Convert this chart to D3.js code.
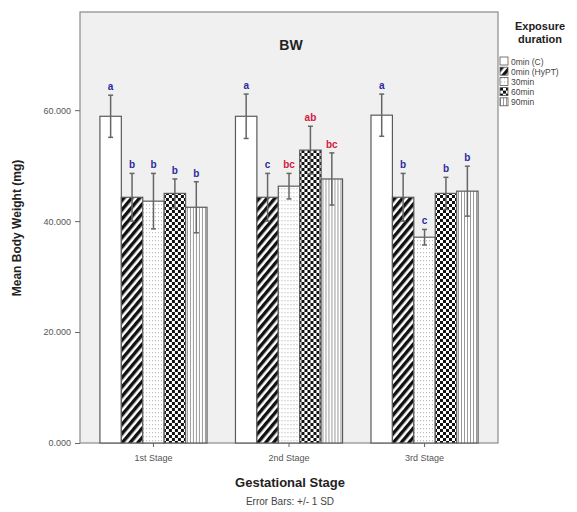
<!DOCTYPE html>
<html>
<head>
<meta charset="utf-8">
<script src="https://cdn.jsdelivr.net/npm/d3@7"></script>
<style>
  body { margin: 0; background: #fff; }
  svg { font-family: Arial, "Liberation Sans", sans-serif; }
</style>
</head>
<body>
<svg id="chart" width="577" height="512"></svg>
<script>
// data
const stages = ["1st Stage", "2nd Stage", "3rd Stage"];
const durations = ["0min (C)", "0min (HyPT)", "30min", "60min", "90min"];
const means = [
  [58.9, 44.3, 43.6, 45.0, 42.5],
  [58.9, 44.3, 46.3, 52.8, 47.6],
  [59.1, 44.3, 37.1, 45.0, 45.4]
];
const sds = [
  [3.8, 4.3, 5.0, 2.6, 4.6],
  [4.0, 4.3, 2.3, 4.3, 4.7],
  [3.8, 4.3, 1.4, 2.9, 4.5]
];
const letters = [
  ["a", "b", "b", "b", "b"],
  ["a", "c", "bc", "ab", "bc"],
  ["a", "b", "c", "b", "b"]
];
const yTicks = [0, 20, 40, 60];

const svg = d3.select("#chart");
const frame = { left: 80, right: 498, top: 12, bottom: 443 };

// fill patterns, one per duration
const defs = svg.append("defs");
function pattern(id, w, h) {
  return defs.append("pattern").attr("id", id)
    .attr("patternUnits", "userSpaceOnUse").attr("width", w).attr("height", h);
}
let p = pattern("p-hypt", 6, 6).attr("patternTransform", "rotate(40)");
p.append("rect").attr("width", 6).attr("height", 6).attr("fill", "#fff");
p.append("rect").attr("width", 3.4).attr("height", 6).attr("fill", "#111");

p = pattern("p-30", 3, 4);
p.append("rect").attr("width", 3).attr("height", 4).attr("fill", "#fff");
p.append("rect").attr("x", 1).attr("width", 1).attr("height", 1.3).attr("fill", "#bbb");

p = pattern("p-60", 6, 6);
p.append("rect").attr("width", 6).attr("height", 6).attr("fill", "#fff");
p.append("rect").attr("width", 3).attr("height", 3).attr("fill", "#111");
p.append("rect").attr("x", 3).attr("y", 3).attr("width", 3).attr("height", 3).attr("fill", "#111");

p = pattern("p-90", 3, 3);
p.append("rect").attr("width", 3).attr("height", 3).attr("fill", "#fff");
p.append("rect").attr("width", 1).attr("height", 3).attr("fill", "#999");

const fills = ["#fff", "url(#p-hypt)", "url(#p-30)", "url(#p-60)", "url(#p-90)"];

// plot background
svg.append("rect")
  .attr("x", frame.left).attr("y", frame.top)
  .attr("width", frame.right - frame.left).attr("height", frame.bottom - frame.top)
  .attr("fill", "#f0f0f0").attr("stroke", "#8a8a8a").attr("stroke-width", 1.2);

const y = d3.scaleLinear().domain([0, 77.7]).range([frame.bottom, frame.top]);
const x0 = d3.scaleBand().domain(stages).range([frame.left, frame.right])
  .paddingInner(0.21).paddingOuter(0.147);
const x1 = d3.scaleBand().domain(durations).range([0, x0.bandwidth()]);

// bars
const groups = svg.append("g").selectAll("g")
  .data(stages).join("g")
  .attr("transform", d => `translate(${x0(d)},0)`);

groups.each(function (stage, si) {
  const g = d3.select(this);
  durations.forEach((dur, di) => {
    const m = means[si][di], s = sds[si][di];
    const bx = x1(dur), bw = x1.bandwidth();
    const cx = bx + bw / 2;
    g.append("rect")
      .attr("x", bx).attr("y", y(m))
      .attr("width", bw).attr("height", y(0) - y(m))
      .attr("fill", fills[di]).attr("stroke", "#5a5a5a").attr("stroke-width", 1.2);
    // error bar
    g.append("line").attr("x1", cx).attr("x2", cx)
      .attr("y1", y(m + s)).attr("y2", y(m - s))
      .attr("stroke", "#666").attr("stroke-width", 1.5);
    [m + s, m - s].forEach(v => {
      g.append("line").attr("x1", cx - 2.5).attr("x2", cx + 2.5)
        .attr("y1", y(v)).attr("y2", y(v))
        .attr("stroke", "#666").attr("stroke-width", 1.5);
    });
    // significance letter
    const lab = letters[si][di];
    const col = lab.length > 1 ? "#d02040" : "#2a2aa0";
    g.append("text")
      .attr("x", cx).attr("y", y(m + s) - 5)
      .attr("text-anchor", "middle")
      .attr("font-size", 10).attr("font-weight", "bold")
      .attr("fill", col)
      .text(lab);
  });
});

// y axis
const yAxis = svg.append("g")
  .attr("transform", `translate(${frame.left},0)`)
  .call(d3.axisLeft(y).tickValues(yTicks).tickSize(5).tickFormat(d3.format(".3f")));
yAxis.select(".domain").remove();
yAxis.selectAll("line").attr("stroke", "#666");
yAxis.selectAll("text").attr("fill", "#555").attr("font-size", 9).attr("dx", "-1");

// x axis
const xAxis = svg.append("g")
  .attr("transform", `translate(0,${frame.bottom})`)
  .call(d3.axisBottom(x0).tickSize(4));
xAxis.select(".domain").remove();
xAxis.selectAll("line").attr("stroke", "#666");
xAxis.selectAll("text").attr("fill", "#555").attr("font-size", 9).attr("dy", "1.2em");

// titles
svg.append("text").attr("x", 291).attr("y", 50).attr("text-anchor", "middle")
  .attr("font-size", 14).attr("font-weight", "bold").attr("fill", "#222").text("BW");

svg.append("text")
  .attr("transform", "translate(21,228) rotate(-90)")
  .attr("text-anchor", "middle").attr("font-size", 12).attr("font-weight", "bold")
  .attr("fill", "#222").text("Mean Body Weight (mg)");

svg.append("text").attr("x", 290).attr("y", 487).attr("text-anchor", "middle")
  .attr("font-size", 13).attr("font-weight", "bold").attr("fill", "#222")
  .text("Gestational Stage");

svg.append("text").attr("x", 290).attr("y", 505).attr("text-anchor", "middle")
  .attr("font-size", 10).attr("fill", "#444").text("Error Bars: +/- 1 SD");

// legend
const legend = svg.append("g");
legend.append("text").attr("x", 540).attr("y", 30).attr("text-anchor", "middle")
  .attr("font-size", 11).attr("font-weight", "bold").attr("fill", "#222").text("Exposure");
legend.append("text").attr("x", 540).attr("y", 43).attr("text-anchor", "middle")
  .attr("font-size", 11).attr("font-weight", "bold").attr("fill", "#222").text("duration");

const item = legend.selectAll("g.item").data(durations).join("g")
  .attr("class", "item")
  .attr("transform", (d, i) => `translate(500,${57 + i * 10.2})`);
item.append("rect").attr("width", 8).attr("height", 8)
  .attr("fill", (d, i) => fills[i]).attr("stroke", "#555").attr("stroke-width", 0.8);
item.append("text").attr("x", 11).attr("y", 7.5)
  .attr("font-size", 8.5).attr("fill", "#444").text(d => d);
</script>
</body>
</html>
